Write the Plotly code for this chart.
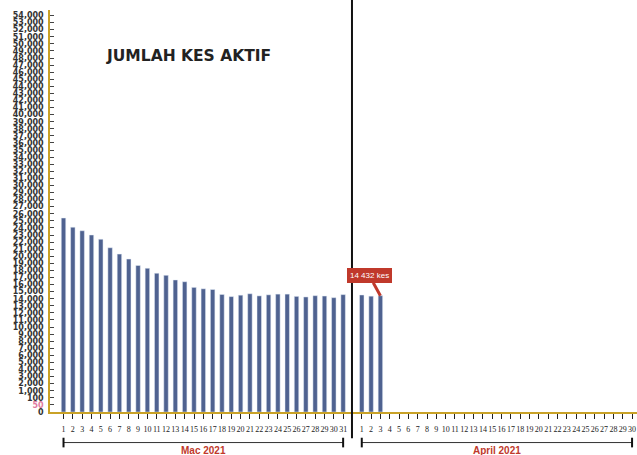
import plotly.graph_objects as go

# ---------------- data ----------------
mar_days = [str(d) for d in range(1, 32)]
apr_days = [str(d) for d in range(1, 31)]
mar_values = [25400, 24100, 23600, 23000, 22400, 21200, 20300, 19600, 18700, 18300,
              17600, 17300, 16650, 16400, 15600, 15400, 15300, 14600, 14300, 14500,
              14700, 14400, 14550, 14650, 14650, 14330, 14250, 14430, 14380, 14150,
              14580]
apr_values = [14530, 14360, 14432]
month_labels = ["Mac 2021", "April 2021"]
title_text = "JUMLAH KES AKTIF"
callout_text = "14 432 kes"
y_tick_labels = ["0", "50", "100"] + [f"{k:,}" for k in range(1000, 55000, 1000)]

# ---------------- layout helpers ----------------
ZERO_POS = -2000          # axis position of the "0" label (0, 50, 100 share equal steps)
y_tick_vals = [ZERO_POS + i * 1000 for i in range(len(y_tick_labels))]
y_tick_text = [("<span style='color:#e07aa0'>%s</span>" % t) if t == "50" else t
               for t in y_tick_labels]

mar_x = list(range(len(mar_days)))
gap = 1
apr_start = len(mar_days) + gap
apr_x_all = [apr_start + i for i in range(len(apr_days))]
apr_x = apr_x_all[:len(apr_values)]

bar_color = "#4f6290"
axis_color = "#c9a227"
red = "#c0392b"

fig = go.Figure()
fig.add_trace(go.Bar(x=mar_x, y=[v - ZERO_POS for v in mar_values], base=ZERO_POS,
                     marker_color=bar_color, width=0.48, showlegend=False))
fig.add_trace(go.Bar(x=apr_x, y=[v - ZERO_POS for v in apr_values], base=ZERO_POS,
                     marker_color=bar_color, width=0.48, showlegend=False))

fig.update_layout(
    width=637, height=455,
    margin=dict(l=50, r=0, t=10, b=43),
    plot_bgcolor="white", paper_bgcolor="white",
    xaxis=dict(
        range=[-1.45, 61.53],
        automargin=False,
        tickmode="array",
        tickvals=mar_x + apr_x_all,
        ticktext=mar_days + apr_days,
        tickangle=0,
        ticks="outside", ticklen=5, tickcolor="#222", tickwidth=1,
        ticklabelstandoff=3,
        tickfont=dict(family="Liberation Serif", size=8, color="#222"),
        showline=True, linecolor=axis_color, linewidth=2,
        showgrid=False, zeroline=False,
    ),
    yaxis=dict(
        range=[ZERO_POS, 54780],
        automargin=False,
        tickmode="array",
        tickvals=y_tick_vals,
        ticktext=y_tick_text,
        ticks="inside", ticklen=4, tickcolor="#444", tickwidth=1,
        ticklabelstandoff=3,
        tickfont=dict(family="DejaVu Sans", size=8, color="#333", weight="bold"),
        showline=True, linecolor=axis_color, linewidth=1.5,
        showgrid=False, zeroline=False,
    ),
)

# title
fig.add_annotation(text=title_text, xref="paper", yref="paper", x=0.092, y=0.885,
                   xanchor="left", yanchor="middle", showarrow=False,
                   font=dict(family="DejaVu Sans", size=15.5, color="#222", weight="bold"))

# vertical separator line between months
sep_x = len(mar_days) - 1 + 0.95
fig.add_shape(type="line", xref="x", yref="paper", x0=sep_x, x1=sep_x, y0=-0.065, y1=1.03,
              line=dict(color="#111", width=2))

# month brackets and labels
groups = [(mar_x[0], mar_x[-1]), (apr_x_all[0], apr_x_all[-1])]
for (x0, x1), lab in zip(groups, month_labels):
    fig.add_shape(type="line", xref="x", yref="paper", x0=x0, x1=x1, y0=-0.076, y1=-0.076,
                  line=dict(color="#333", width=1))
    for xe in (x0, x1):
        fig.add_shape(type="line", xref="x", yref="paper", x0=xe, x1=xe, y0=-0.064, y1=-0.088,
                      line=dict(color="#111", width=2))
    fig.add_annotation(text=lab, xref="x", yref="paper", x=(x0 + x1) / 2, y=-0.097,
                       xanchor="center", yanchor="middle", showarrow=False,
                       font=dict(family="Liberation Sans", size=10, color=red, weight="bold"))

# callout on last value
fig.add_annotation(text=callout_text, x=apr_x[-1], y=apr_values[-1], xref="x", yref="y",
                   ax=-11, ay=-20, showarrow=True, arrowhead=0, arrowwidth=3, arrowcolor=red,
                   bgcolor=red, bordercolor=red, borderpad=2,
                   font=dict(family="Liberation Sans", size=8, color="white"))

fig.write_html("out.html", config={"displayModeBar": False},
               post_script="document.body.style.margin='0';document.body.style.overflow='hidden';")
